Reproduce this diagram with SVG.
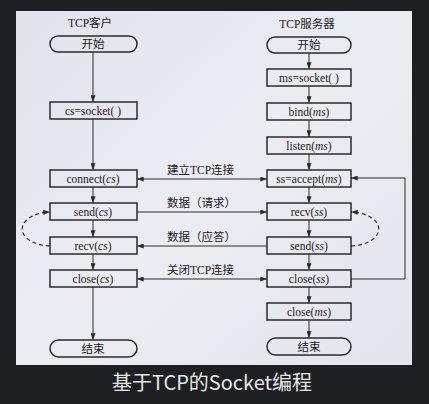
<svg xmlns="http://www.w3.org/2000/svg" width="429" height="404" viewBox="0 0 429 404">
<defs>
<marker id="ah" viewBox="0 0 8 6" refX="8" refY="3" markerWidth="7" markerHeight="5" markerUnits="userSpaceOnUse" orient="auto-start-reverse">
<path d="M0,0 L8,3 L0,6 z" fill="#2a2a2e"/>
</marker>
<linearGradient id="pg" x1="0" y1="0" x2="1" y2="1">
<stop offset="0" stop-color="#e2e2ec"/>
<stop offset="0.5" stop-color="#ececf3"/>
<stop offset="1" stop-color="#e4e4ec"/>
</linearGradient>
</defs>
<style>
.box{fill:none;stroke:#2a2a2e;stroke-width:1.5}
.ln{fill:none;stroke:#2a2a2e;stroke-width:1}
.dash{fill:none;stroke:#2a2a2e;stroke-width:1.2;stroke-dasharray:4 3}
.t{font-family:"Liberation Serif","Noto Sans CJK SC",serif;font-size:11.5px;fill:#222;text-anchor:middle}
.lbl{font-family:"Liberation Serif","Noto Sans CJK SC",serif;font-size:11.5px;fill:#222}
.i{font-style:italic}
.cap{font-family:"Noto Sans CJK SC","Noto Sans",sans-serif;font-size:20px;fill:#e6e6e6;text-anchor:middle}
</style>
<rect x="0" y="0" width="429" height="404" fill="#1e1f22"/>
<rect x="16" y="11" width="396" height="354" fill="url(#pg)"/>

<text class="t" x="90" y="27">TCP客户</text>
<text class="t" x="307" y="28">TCP服务器</text>

<g id="connectors">
<line class="ln" x1="93" y1="52" x2="93" y2="102" marker-end="url(#ah)"/>
<line class="ln" x1="93" y1="119" x2="93" y2="170" marker-end="url(#ah)"/>
<line class="ln" x1="93" y1="187" x2="93" y2="203" marker-end="url(#ah)"/>
<line class="ln" x1="93" y1="220" x2="93" y2="237" marker-end="url(#ah)"/>
<line class="ln" x1="93" y1="254" x2="93" y2="270" marker-end="url(#ah)"/>
<line class="ln" x1="93" y1="287" x2="93" y2="340" marker-end="url(#ah)"/>

<line class="ln" x1="309" y1="53" x2="309" y2="69" marker-end="url(#ah)"/>
<line class="ln" x1="309" y1="86" x2="309" y2="103" marker-end="url(#ah)"/>
<line class="ln" x1="309" y1="120" x2="309" y2="137" marker-end="url(#ah)"/>
<line class="ln" x1="309" y1="154" x2="309" y2="170" marker-end="url(#ah)"/>
<line class="ln" x1="309" y1="187" x2="309" y2="203" marker-end="url(#ah)"/>
<line class="ln" x1="309" y1="220" x2="309" y2="237" marker-end="url(#ah)"/>
<line class="ln" x1="309" y1="254" x2="309" y2="270" marker-end="url(#ah)"/>
<line class="ln" x1="309" y1="287" x2="309" y2="303" marker-end="url(#ah)"/>
<line class="ln" x1="309" y1="320" x2="309" y2="338" marker-end="url(#ah)"/>

<line class="ln" x1="137" y1="179" x2="267" y2="179" marker-start="url(#ah)" marker-end="url(#ah)"/>
<line class="ln" x1="137" y1="212" x2="267" y2="212" marker-end="url(#ah)"/>
<line class="ln" x1="267" y1="246" x2="137" y2="246" marker-end="url(#ah)"/>
<line class="ln" x1="137" y1="279" x2="267" y2="279" marker-start="url(#ah)" marker-end="url(#ah)"/>

<path class="ln" d="M351,279 H405 V178 H351" marker-end="url(#ah)"/>
<path class="dash" d="M50,246 C13,244 13,214 50,212" marker-end="url(#ah)"/>
<path class="dash" d="M351,246 C388,244 388,214 351,212" marker-end="url(#ah)"/>

<text class="lbl" x="167" y="174">建立TCP连接</text>
<text class="lbl" x="167" y="207">数据（请求）</text>
<text class="lbl" x="167" y="241">数据（应答）</text>
<text class="lbl" x="167" y="274">关闭TCP连接</text>
</g>

<g id="c-start"><rect class="box" x="50" y="36" width="87" height="16" rx="8"/><text class="t" x="93" y="48">开始</text></g>
<g id="c-socket"><rect class="box" x="50" y="102" width="87" height="17"/><text class="t" x="93" y="114.5">cs=socket( )</text></g>
<g id="c-connect"><rect class="box" x="50" y="170" width="87" height="17"/><text class="t" x="93" y="182.5">connect(<tspan class="i">cs</tspan>)</text></g>
<g id="c-send"><rect class="box" x="50" y="203" width="87" height="17"/><text class="t" x="93" y="215.5">send(<tspan class="i">cs</tspan>)</text></g>
<g id="c-recv"><rect class="box" x="50" y="237" width="87" height="17"/><text class="t" x="93" y="249.5">recv(<tspan class="i">cs</tspan>)</text></g>
<g id="c-close"><rect class="box" x="50" y="270" width="87" height="17"/><text class="t" x="93" y="282.5">close(<tspan class="i">cs</tspan>)</text></g>
<g id="c-end"><rect class="box" x="50" y="340" width="87" height="17" rx="8.5"/><text class="t" x="93" y="352.5">结束</text></g>

<g id="s-start"><rect class="box" x="267" y="37" width="84" height="16" rx="8"/><text class="t" x="309" y="49">开始</text></g>
<g id="s-socket"><rect class="box" x="267" y="69" width="84" height="17"/><text class="t" x="309" y="81.5">ms=socket( )</text></g>
<g id="s-bind"><rect class="box" x="267" y="103" width="84" height="17"/><text class="t" x="309" y="115.5">bind(<tspan class="i">ms</tspan>)</text></g>
<g id="s-listen"><rect class="box" x="267" y="137" width="84" height="17"/><text class="t" x="309" y="149.5">listen(<tspan class="i">ms</tspan>)</text></g>
<g id="s-accept"><rect class="box" x="267" y="170" width="84" height="17"/><text class="t" x="309" y="182.5">ss=accept(<tspan class="i">ms</tspan>)</text></g>
<g id="s-recv"><rect class="box" x="267" y="203" width="84" height="17"/><text class="t" x="309" y="215.5">recv(<tspan class="i">ss</tspan>)</text></g>
<g id="s-send"><rect class="box" x="267" y="237" width="84" height="17"/><text class="t" x="309" y="249.5">send(<tspan class="i">ss</tspan>)</text></g>
<g id="s-close-ss"><rect class="box" x="267" y="270" width="84" height="17"/><text class="t" x="309" y="282.5">close(<tspan class="i">ss</tspan>)</text></g>
<g id="s-close-ms"><rect class="box" x="267" y="303" width="84" height="17"/><text class="t" x="309" y="315.5">close(<tspan class="i">ms</tspan>)</text></g>
<g id="s-end"><rect class="box" x="267" y="338" width="84" height="17" rx="8.5"/><text class="t" x="309" y="350.5">结束</text></g>

<text class="cap" x="212" y="390" textLength="200" lengthAdjust="spacingAndGlyphs">基于TCP的Socket编程</text>
</svg>
